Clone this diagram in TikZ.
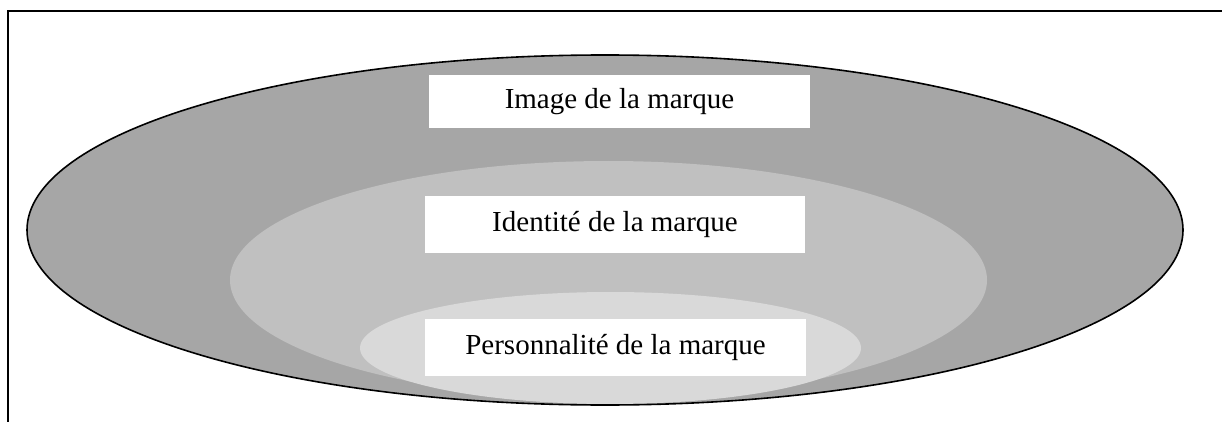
\documentclass[tikz,border=0pt]{standalone}
\usepackage{fontspec}
\setmainfont{Liberation Serif}
\definecolor{outerg}{RGB}{166,166,166}
\definecolor{midg}{RGB}{192,192,192}
\definecolor{innerg}{RGB}{217,217,217}
\begin{document}
\begin{tikzpicture}[x=1pt,y=-1pt,
  label box/.style={fill=white, draw=none, inner sep=0pt, font=\fontsize{29}{35}\selectfont},
  frame line/.style={line width=2pt, black}]
\useasboundingbox (0,0) rectangle (1222,422);
\coordinate (tl) at (8,11);
\coordinate (tr) at (1222,11);
\coordinate (bl) at (8,422);
\draw[frame line] (tr) -- (tl) -- (bl);
\begin{scope}
  \clip (605,230) ellipse [x radius=578, y radius=175];
  \fill[outerg] (605,230) ellipse [x radius=578, y radius=175];
  \fill[midg] (608.5,280) ellipse [x radius=378.5, y radius=119];
  \fill[innerg] (610.5,348) ellipse [x radius=250.5, y radius=56];
\end{scope}
\draw[line width=1.6pt] (605,230) ellipse [x radius=578, y radius=175];
\node[label box, minimum width=381pt, minimum height=53pt] (image) at (619.5,101.5) {Image de la marque};
\node[label box, minimum width=380pt, minimum height=57pt] (identite) at (615,224.5) {Identité de la marque};
\node[label box, minimum width=381pt, minimum height=57pt] (perso) at (615.5,347.5) {Personnalité de la marque};
\end{tikzpicture}
\end{document}
